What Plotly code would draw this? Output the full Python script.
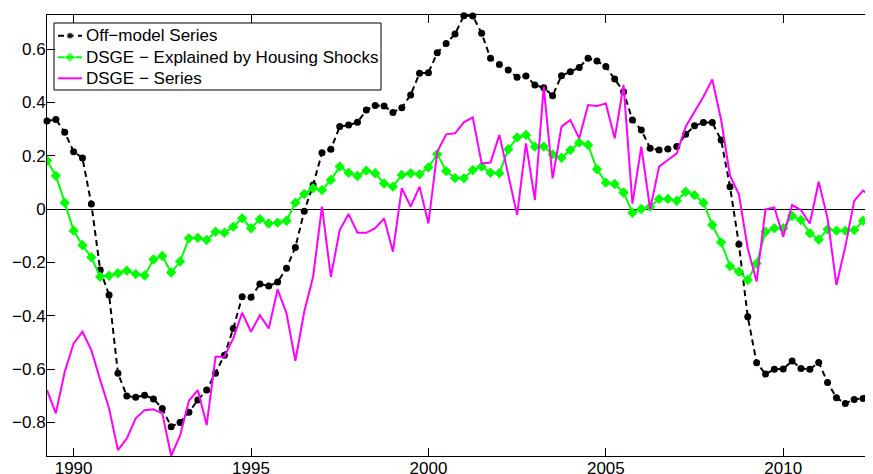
import numpy as np
import plotly.graph_objects as go

# Quarterly dates, 1989Q2 .. 2012Q3
start_year = 1989.25
n_quarters = 94
dates = [start_year + 0.25 * i for i in range(n_quarters)]

off_model = [
    0.330, 0.336, 0.288, 0.215, 0.191, 0.019, -0.229, -0.322, -0.616, -0.701,
    -0.706, -0.698, -0.712, -0.748, -0.816, -0.800, -0.762, -0.716, -0.679, -0.616,
    -0.548, -0.448, -0.329, -0.331, -0.281, -0.289, -0.274, -0.222, -0.144, -0.008,
    0.090, 0.211, 0.224, 0.309, 0.315, 0.325, 0.371, 0.388, 0.386, 0.362,
    0.380, 0.428, 0.509, 0.511, 0.586, 0.621, 0.656, 0.725, 0.724, 0.659,
    0.565, 0.542, 0.521, 0.494, 0.499, 0.465, 0.455, 0.425, 0.500, 0.515,
    0.531, 0.565, 0.555, 0.534, 0.488, 0.440, 0.334, 0.296, 0.228, 0.221,
    0.225, 0.234, 0.280, 0.312, 0.324, 0.324, 0.259, 0.084, -0.132, -0.404,
    -0.576, -0.619, -0.601, -0.600, -0.570, -0.598, -0.601, -0.575, -0.650, -0.708,
    -0.729, -0.714, -0.710, -0.669,
]

dsge_housing = [
    0.181, 0.125, 0.024, -0.081, -0.136, -0.181, -0.254, -0.250, -0.241, -0.231,
    -0.244, -0.249, -0.189, -0.176, -0.238, -0.197, -0.110, -0.108, -0.116, -0.085,
    -0.089, -0.066, -0.035, -0.072, -0.038, -0.054, -0.051, -0.044, 0.024, 0.056,
    0.078, 0.071, 0.109, 0.159, 0.136, 0.124, 0.144, 0.134, 0.096, 0.084,
    0.128, 0.134, 0.130, 0.156, 0.206, 0.142, 0.116, 0.115, 0.146, 0.159,
    0.136, 0.134, 0.224, 0.268, 0.278, 0.234, 0.234, 0.205, 0.192, 0.221,
    0.249, 0.240, 0.149, 0.099, 0.094, 0.062, -0.014, 0.000, 0.009, 0.038,
    0.038, 0.031, 0.065, 0.052, 0.024, -0.060, -0.125, -0.214, -0.235, -0.266,
    -0.204, -0.085, -0.072, -0.072, -0.026, -0.041, -0.091, -0.114, -0.076, -0.081,
    -0.081, -0.079, -0.044, -0.064,
]

dsge_series = [
    -0.679, -0.766, -0.610, -0.504, -0.460, -0.529, -0.641, -0.748, -0.904, -0.860,
    -0.785, -0.754, -0.751, -0.766, -0.925, -0.850, -0.719, -0.679, -0.810, -0.554,
    -0.554, -0.485, -0.389, -0.460, -0.398, -0.448, -0.301, -0.391, -0.569, -0.385,
    -0.254, 0.009, -0.254, -0.079, -0.019, -0.089, -0.089, -0.072, -0.035, -0.160,
    0.078, 0.009, 0.084, -0.054, 0.215, 0.280, 0.284, 0.325, 0.344, 0.171,
    0.174, 0.278, 0.128, -0.022, 0.246, 0.034, 0.459, 0.115, 0.309, 0.334,
    0.265, 0.390, 0.386, 0.396, 0.265, 0.465, 0.020, 0.234, -0.001, 0.159,
    0.184, 0.209, 0.309, 0.365, 0.421, 0.486, 0.334, 0.125, 0.055, -0.148,
    -0.272, -0.001, 0.006, -0.104, 0.015, -0.004, -0.054, 0.102, -0.035, -0.285,
    -0.141, 0.031, 0.069, 0.046,
]

series_names = ["Off\u2212model Series", "DSGE \u2212 Explained by Housing Shocks", "DSGE \u2212 Series"]

x_tickvals = [1990, 1995, 2000, 2005, 2010]
x_ticktext = ["1990", "1995", "2000", "2005", "2010"]
y_tickvals = [-0.8, -0.6, -0.4, -0.2, 0, 0.2, 0.4, 0.6]
y_ticktext = ["\u22120.8", "\u22120.6", "\u22120.4", "\u22120.2", "0", "0.2", "0.4", "0.6"]

FONT = "Liberation Sans, Arial, Helvetica, sans-serif"
# The page body adds an 8px offset; the figure is sized so the plot area
# lands at window pixels x 47..873, y 15..456.
OFF = 8
WIN_W, WIN_H = 873, 474
PL, PT, PR, PB = 47, 15, 873, 456          # plot area in window pixels
W, H = WIN_W - OFF, WIN_H - OFF
ML, MT = PL - OFF, PT - OFF
MR, MB = (OFF + W) - PR, (OFF + H) - PB

styles = [
    dict(mode="lines+markers", line=dict(color="black", width=2, dash="6px,4px"),
         marker=dict(symbol="circle", size=7, color="black")),
    dict(mode="lines+markers", line=dict(color="#00FF00", width=2),
         marker=dict(symbol="diamond", size=8, color="#00FF00")),
    dict(mode="lines", line=dict(color="#FF00FF", width=2)),
]

fig = go.Figure()
for name, ys, st in zip(series_names, [off_model, dsge_housing, dsge_series], styles):
    fig.add_trace(go.Scatter(x=dates, y=ys, name=name, showlegend=False,
                             cliponaxis=False if name == series_names[0] else True, **st))

# Legend drawn on an overlay axis measured in window pixels
leg_left, leg_top, leg_right, leg_bottom = 54, 23, 381, 90
row_y = [35.7, 57.3, 78.3]
for name, st, ry in zip(series_names, styles, row_y):
    kw = dict(mode=st["mode"], line=st["line"])
    if "marker" in st:
        m = dict(st["marker"])
        m["size"] = [0, m["size"], 0]
        kw["marker"] = m
    fig.add_trace(go.Scatter(
        x=[58, 70, 82], y=[ry, ry, ry], xaxis="x2", yaxis="y2", showlegend=False,
        hoverinfo="skip", cliponaxis=False, **kw,
    ))

for name, ry in zip(series_names, row_y):
    fig.add_annotation(x=84, y=ry, xref="x2", yref="y2", text=name, showarrow=False,
                       xanchor="left", yanchor="middle",
                       font=dict(family=FONT, size=17, color="black"))
fig.add_shape(type="rect", xref="x2", yref="y2", x0=leg_left, x1=leg_right,
              y0=leg_top, y1=leg_bottom, line=dict(color="black", width=1),
              fillcolor="rgba(0,0,0,0)", layer="above")

fig.update_layout(
    width=W, height=H,
    margin=dict(l=ML, r=MR, t=MT, b=MB, pad=0),
    paper_bgcolor="white", plot_bgcolor="white",
    font=dict(family=FONT, size=17, color="black"),
    showlegend=False,
    xaxis=dict(
        range=[1989.25, 2012.53], showgrid=False, zeroline=False, automargin=False,
        tickmode="array", tickvals=x_tickvals, ticktext=x_ticktext,
        ticks="inside", ticklen=8, tickwidth=1, tickcolor="black", ticklabelstandoff=-3,
        showline=True, linecolor="black", linewidth=1, mirror="ticks",
        tickfont=dict(family=FONT, size=17, color="black"),
    ),
    yaxis=dict(
        range=[-0.926, 0.7275], showgrid=False, automargin=False,
        zeroline=True, zerolinecolor="black", zerolinewidth=1,
        tickmode="array", tickvals=y_tickvals, ticktext=y_ticktext,
        ticks="inside", ticklen=8, tickwidth=1, tickcolor="black", ticklabelstandoff=-3,
        showline=True, linecolor="black", linewidth=1, mirror=False,
        tickfont=dict(family=FONT, size=17, color="black"),
    ),
    xaxis2=dict(overlaying="x", range=[PL, PR], visible=False, fixedrange=True),
    yaxis2=dict(overlaying="y", range=[PB, PT], visible=False, fixedrange=True),
)

fig.write_html("out.html")
